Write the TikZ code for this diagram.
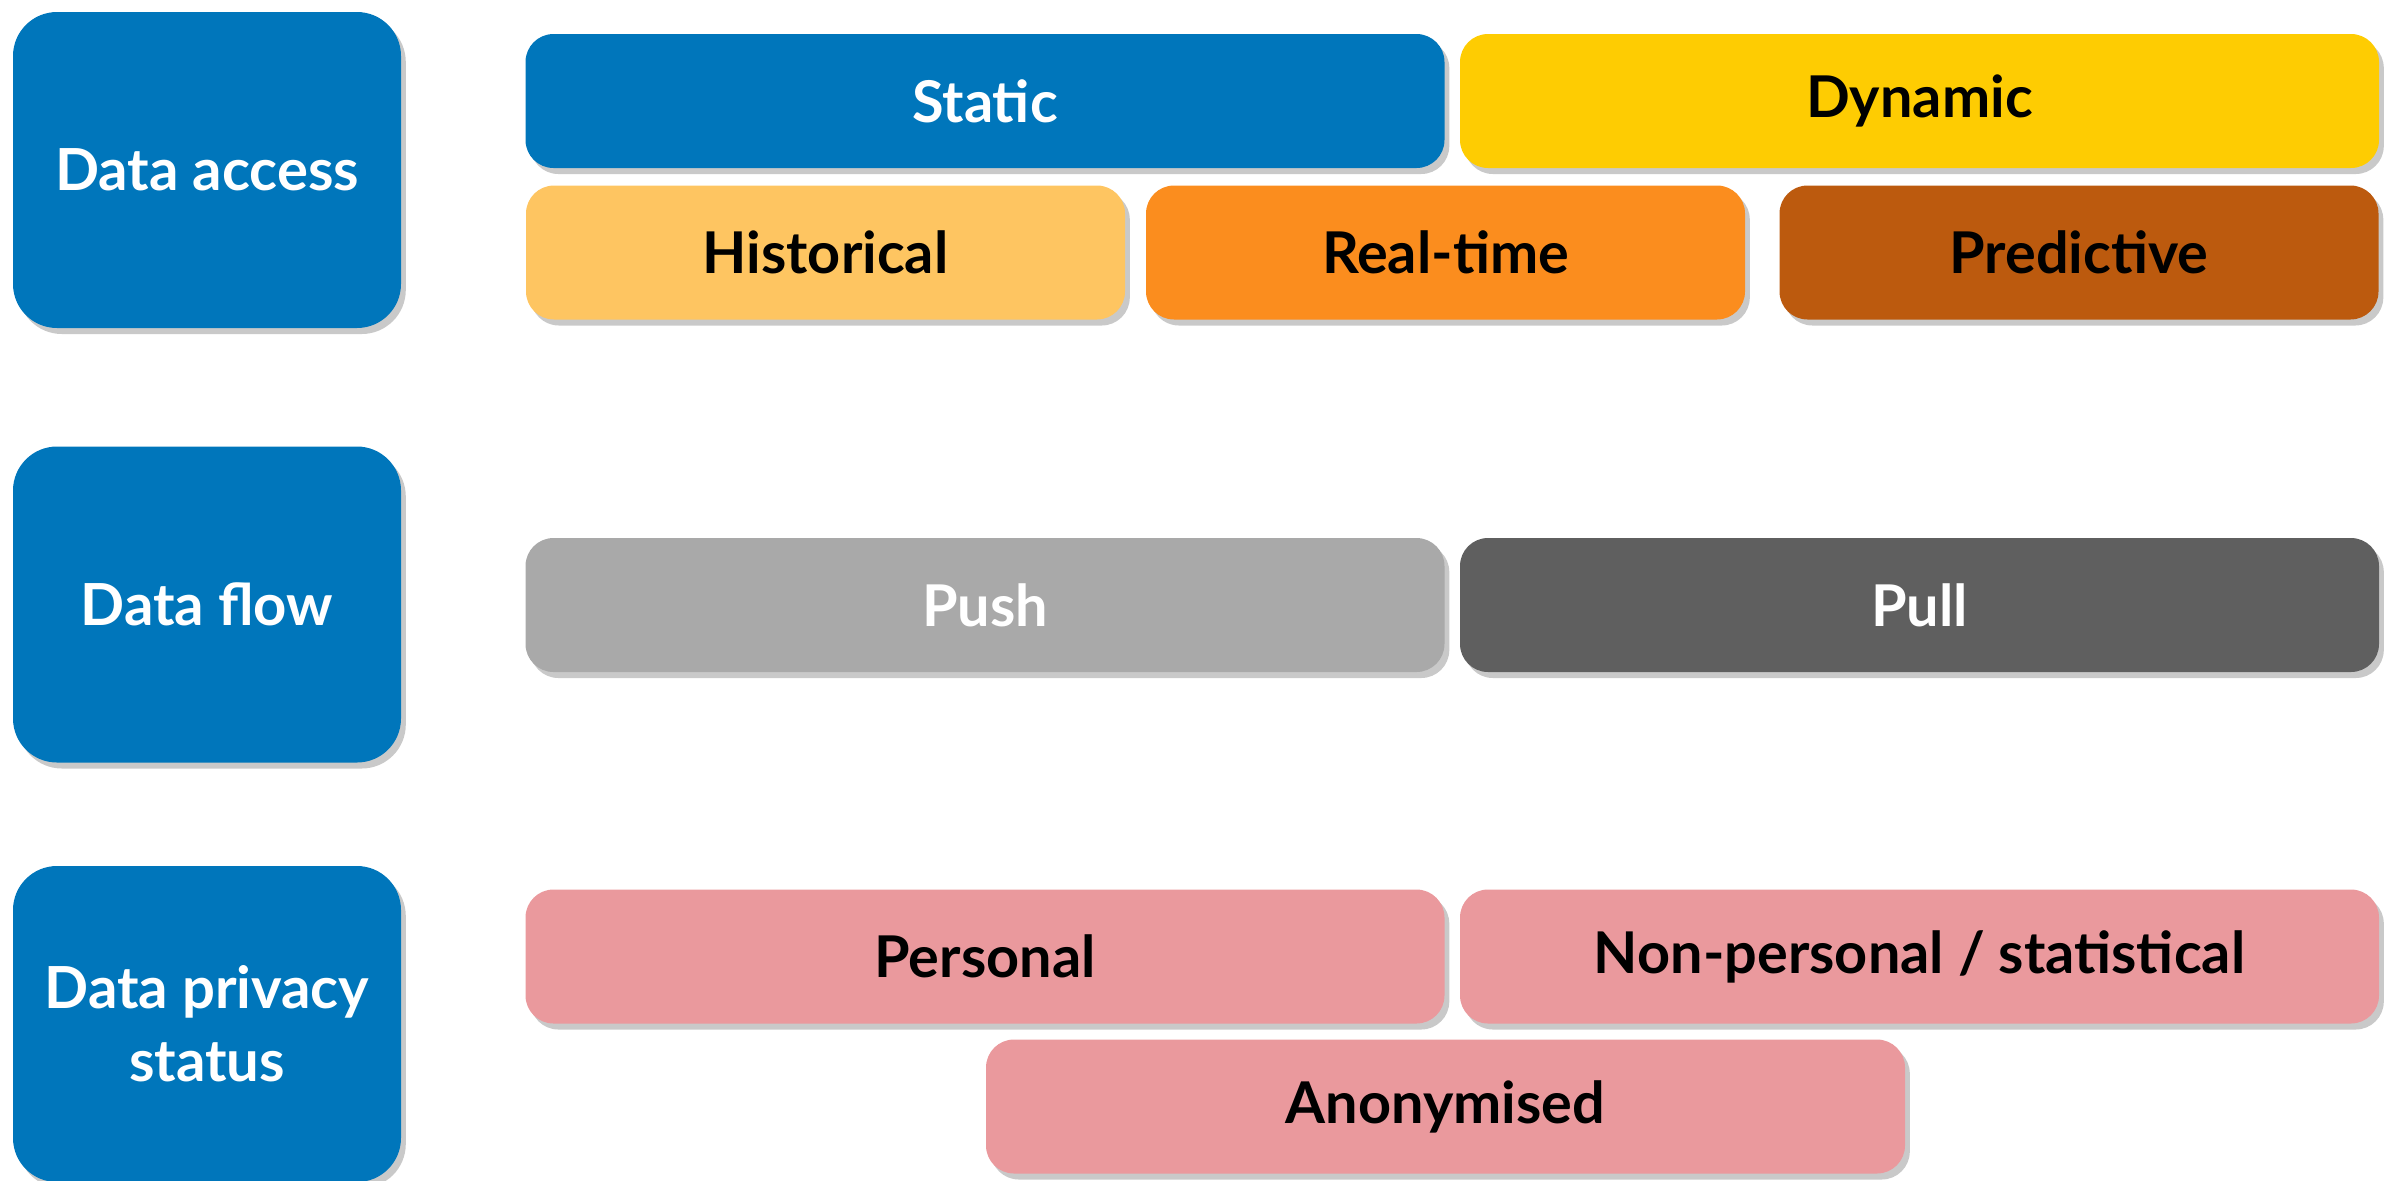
\documentclass[tikz,border=0pt]{standalone}
\usepackage{fontspec}
\setmainfont{Lato}
\usetikzlibrary{shadows}
\definecolor{catblue}{HTML}{0076BB}
\definecolor{dynyellow}{HTML}{FECC02}
\definecolor{histyellow}{HTML}{FEC561}
\definecolor{rtorange}{HTML}{FB8D1E}
\definecolor{predbrown}{HTML}{BC5A0E}
\definecolor{pushgray}{HTML}{A9A9A9}
\definecolor{pullgray}{HTML}{5F5F5F}
\definecolor{privpink}{HTML}{EA999D}
\begin{document}
\begin{tikzpicture}[x=0.25pt,y=-0.25pt,
  boxshadow/.style={drop shadow={shadow xshift=1.2pt, shadow yshift=-1.5pt, opacity=0.3, fill=black!70}},
  cat/.style={rounded corners=11pt, fill=catblue, text=white, inner sep=0pt,
    minimum width=97pt, minimum height=79pt, align=center,
    font=\fontsize{14.5}{18.3}\selectfont\bfseries, boxshadow},
  opt/.style={rounded corners=7pt, inner sep=0pt, minimum height=33.5pt,
    font=\fontsize{14.4}{16}\selectfont\bfseries, boxshadow},
  wide/.style={opt, minimum width=229.75pt},
  part/.style={opt, minimum width=149.75pt}]
\useasboundingbox (0,0) rectangle (2391,1180);
% categories
\node [cat] (access) at (207,170) {Data access};
\node [cat] (flow) at (207,604.5) {Data flow};
\node [cat] (privacy) at (207,1024) {Data privacy\\status};
% data access
\node [wide, fill=catblue, text=white] (static) at (985,101) {Static};
\node [wide, fill=dynyellow] (dynamic) at (1919.5,101) {Dynamic};
\node [part, fill=histyellow] (historical) at (825.5,252.5) {Historical};
\node [part, fill=rtorange] (realtime) at (1445.5,252.5) {Real-time};
\node [part, fill=predbrown] (predictive) at (2079,252.5) {Predictive};
% data flow
\node [wide, fill=pushgray, text=white] (push) at (985,605) {Push};
\node [wide, fill=pullgray, text=white] (pull) at (1919.5,605) {Pull};
% data privacy status
\node [wide, fill=privpink] (personal) at (985,956.5) {Personal};
\node [wide, fill=privpink] (nonpersonal) at (1919.5,956.5) {Non-personal / statistical};
\node [wide, fill=privpink] (anonymised) at (1445.5,1106.5) {Anonymised};
\end{tikzpicture}
\end{document}
